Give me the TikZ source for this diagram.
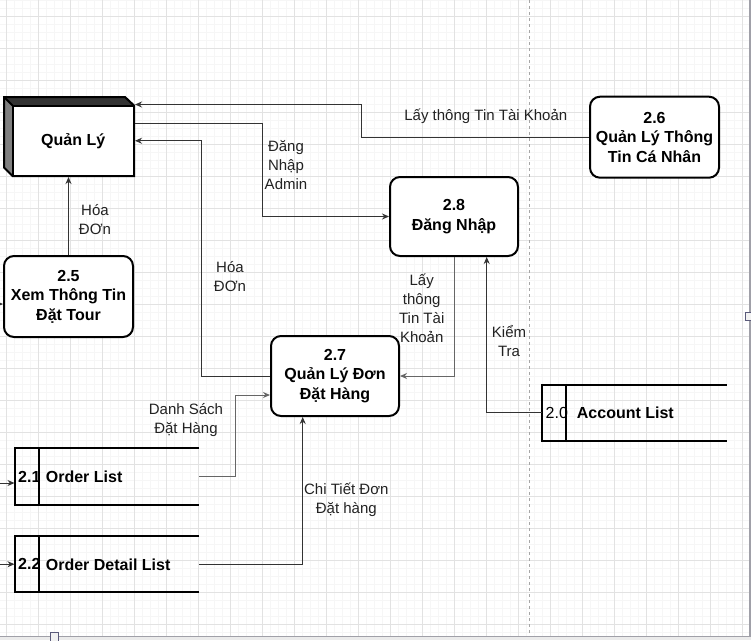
\documentclass[tikz,border=0pt]{standalone}
\usepackage{fontspec}
\setmainfont{Liberation Sans}
\usetikzlibrary{arrows.meta}
\definecolor{gridminor}{HTML}{F6F6F6}
\definecolor{gridmajor}{HTML}{E2E2E2}
\definecolor{lblcol}{HTML}{222222}
\definecolor{linecol}{HTML}{333333}
\definecolor{frame}{HTML}{A0A0A8}
\definecolor{handle}{HTML}{5A5A7A}
\tikzset{
  proc/.style={draw=black, line width=2pt, rounded corners=10pt, fill=white, align=center,
    font=\bfseries\fontsize{16}{19.5}\selectfont, inner sep=0pt},
  storebox/.style={draw=none, inner sep=0pt},
  storeline/.style={draw=black, line width=2pt},
  storetxt/.style={anchor=west, inner sep=0pt, font=\bfseries\fontsize{16}{19}\selectfont},
  lbl/.style={align=center, inner sep=0pt, text=lblcol, font=\fontsize{15}{19}\selectfont},
  flow/.style={draw=linecol, line width=1pt, -{Stealth[length=7pt,width=6pt]}},
  gridmin/.style={draw=gridminor, line width=0.5pt},
  gridmaj/.style={draw=gridmajor, line width=0.8pt},
}
\begin{document}
\begin{tikzpicture}[x=1pt, y=-1pt]
\useasboundingbox (0,0) rectangle (751,640);
% background and grid
\fill[white] (0,0) rectangle (751,640);
\foreach \gx in {-2,6,...,750} \draw[gridmin] (\gx,0) -- (\gx,637);
\foreach \gy in {0,8,...,632} \draw[gridmin] (0,\gy) -- (751,\gy);
\foreach \gx in {6,38,...,742} \draw[gridmaj] (\gx,0) -- (\gx,637);
\foreach \gy in {16,48,...,624} \draw[gridmaj] (0,\gy) -- (751,\gy);
\draw[black!35, line width=0.8pt, dash pattern=on 3pt off 3pt] (529.5,0) -- (529.5,637);
% window frame
\fill[black!8] (0,637) rectangle (751,640);
\draw[frame, line width=1.2pt] (0,636.8) -- (751,636.8);
\draw[frame, line width=1.6pt] (749.8,0) -- (749.8,637);
\draw[handle, fill=black!5, line width=0.8pt] (50.5,632.5) rectangle (58.5,641);
\draw[handle, fill=black!5, line width=0.8pt] (745.5,312) rectangle (752,320);

% Quan Ly external entity (3D box)
\fill[black!80] (4,97) -- (125,97) -- (134,105.5) -- (12.5,105.5) -- cycle;
\fill[black!50] (4,97) -- (12.5,105.5) -- (12.5,176) -- (4,167.5) -- cycle;
\draw[line width=2pt, line join=miter] (4,97) -- (125,97) -- (134,105.5) -- (134,176) -- (12.5,176) -- (4,167.5) -- cycle;
\draw[line width=2pt] (4,97) -- (12.5,105.5);
\node[draw=black, line width=2pt, fill=white, minimum width=121.5pt, minimum height=70.5pt, inner sep=0pt,
  font=\bfseries\fontsize{16}{19}\selectfont] (ql) at (73.25,140.75) {Quản Lý};

% processes
\node[proc, minimum width=129pt, minimum height=81pt] (n26) at (654.5,137.2) {2.6\\Quản Lý Thông\\Tin Cá Nhân};
\node[proc, minimum width=128pt, minimum height=79pt] (n28) at (454,216.5) {2.8\\Đăng Nhập};
\node[proc, minimum width=129pt, minimum height=81pt] (n25) at (68.5,296.5) {2.5\\Xem Thông Tin\\Đặt Tour};
\node[proc, minimum width=128pt, minimum height=80pt] (n27) at (335,376) {2.7\\Quản Lý Đơn\\Đặt Hàng};

% data stores
\node[storebox, minimum width=184.3pt, minimum height=56pt] (ol) at (106.85,476.3) {};
\node[storebox, minimum width=184.3pt, minimum height=55.7pt] (odl) at (106.85,564.2) {};
\node[storebox, minimum width=184.7pt, minimum height=56pt] (al) at (634.35,412.7) {};
\node[storetxt] (ol1) at (18,476.8) {2.1};
\node[storetxt] (ol2) at (45.7,476.8) {Order List};
\node[storetxt] (odl1) at (18,564.4) {2.2};
\node[storetxt] (odl2) at (45.7,564.4) {Order Detail List};
\node[storetxt, font=\fontsize{16}{19}\selectfont] (al1) at (545.5,412.8) {2.0};
\node[storetxt] (al2) at (576.7,412.8) {Account List};
\foreach \s in {ol,odl,al} {
  \draw[storeline] (\s.north east) -- (\s.north west) -- (\s.south west) -- (\s.south east);
}
\draw[storeline] ([xshift=24.6pt]ol.north west) -- ([xshift=24.6pt]ol.south west);
\draw[storeline] ([xshift=24.6pt]odl.north west) -- ([xshift=24.6pt]odl.south west);
\draw[storeline] ([xshift=23.7pt]al.north west) -- ([xshift=23.7pt]al.south west);

% connectors
\draw[flow] (n26.west) -- ++(-228,0) |- (ql.north east);
\draw[flow] ([yshift=-18.5pt]ql.north east) -- ++(127,0) |- (n28.west);
\draw[flow] (n27.west) -- ++(-69,0) |- (ql.east);
\draw[flow] (n25.north) -- (n25.north |- ql.south);
\draw[flow, draw=black!60] (n28.south) |- (n27.east);
\draw[flow] (al.west) -| ([xshift=32.7pt]n28.south);
\draw[flow, draw=black!60] (ol.east) -- ++(36,0) |- ([yshift=-19pt]n27.west);
\draw[flow] (odl.east) -| ([xshift=-32.3pt]n27.south);
\coordinate (in21) at (0,483);
\coordinate (in22) at (0,564.2);
\coordinate (in25) at (0,304);
\draw[flow] (in21) -- (in21 -| ol.west);
\draw[flow] (in22) -- (in22 -| odl.west);
\draw[flow] (in25) -- (in25 -| n25.west);

% labels
\node[lbl] (l1) at (485.8,116.7) {Lấy thông Tin Tài Khoản};
\node[lbl] (l2) at (286,165) {Đăng\\Nhập\\Admin};
\node[lbl] (l3) at (230,276.5) {Hóa\\ĐƠn};
\node[lbl] (l4) at (95,220) {Hóa\\ĐƠn};
\node[lbl] (l5) at (421.7,308.7) {Lấy\\thông\\Tin Tài\\Khoản};
\node[lbl] (l6) at (509,341) {Kiểm\\Tra};
\node[lbl] (l7) at (186,420) {Danh Sách\\Đặt Hàng};
\node[lbl] (l8) at (346.3,500) {Chi Tiết Đơn\\Đặt hàng};
\end{tikzpicture}
\end{document}
